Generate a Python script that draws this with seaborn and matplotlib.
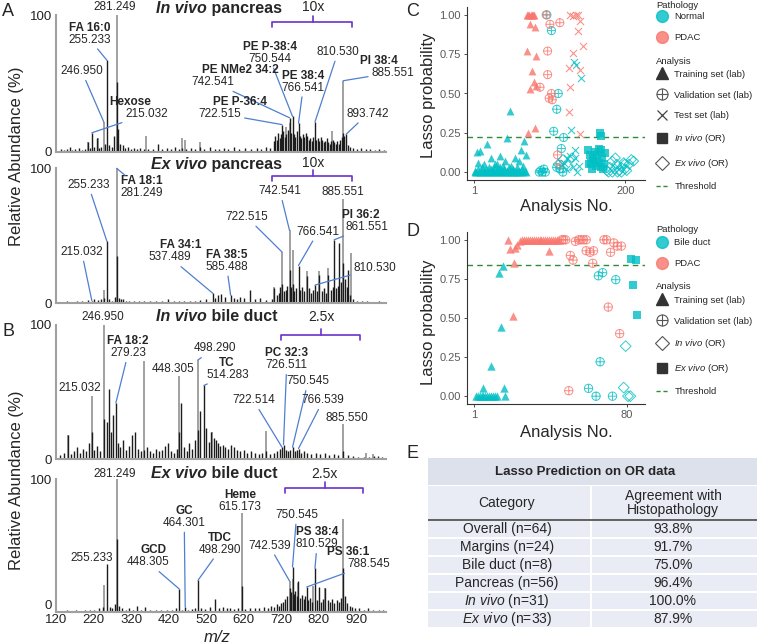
import matplotlib
matplotlib.use("Agg")
import matplotlib.pyplot as plt
import pandas as pd
import seaborn as sns
from matplotlib.lines import Line2D
from matplotlib.markers import MarkerStyle
from matplotlib.path import Path
from matplotlib.patches import Rectangle
from matplotlib.ticker import FormatStrFormatter

sns.set_style("ticks")
plt.rcParams['font.family'] = ['Liberation Sans', 'DejaVu Sans']
plt.rcParams['mathtext.fontset'] = 'custom'
plt.rcParams['mathtext.rm'] = 'Liberation Sans'
plt.rcParams['mathtext.it'] = 'Liberation Sans:italic'
plt.rcParams['mathtext.bf'] = 'Liberation Sans:bold'

# ---------------- spectra: m/z and relative abundance (%) ----------------
s1_dark_mz = [
    133, 141, 150, 156, 163, 171, 180, 188, 197, 205,
    211, 215.032, 222, 228, 235, 240, 251, 255.233, 262, 268,
    275, 281.249, 285, 291, 297, 303, 311, 319, 327, 335,
    343, 353, 365, 377, 391, 403, 415, 427, 437, 447,
    457, 467, 479, 491, 503, 515, 531, 543, 555, 567,
    579, 594, 607, 623, 639, 655, 667, 679, 691, 700,
    704, 708, 712, 716, 719, 722.515, 726, 730, 734, 738,
    742.541, 746, 750.544, 754, 758, 762, 766.541, 770, 774, 778,
    782, 786, 790, 794, 798, 802, 806, 810.530, 814, 818,
    822, 826, 830, 834, 838, 842, 846, 850, 854, 858,
    862, 866, 870, 874, 878, 882, 885.551, 889, 893.742, 898,
    904, 912, 922, 934, 946, 958, 970, 982, 994]
s1_dark_int = [
    2, 1.5, 2, 4, 1.5, 2, 3, 1.5, 2, 7,
    3, 14, 4, 10, 3, 4, 6, 67, 5, 4,
    12, 51, 17, 6, 5, 3, 4, 2.5, 3, 2,
    3, 2, 2.5, 2, 6, 2, 3, 2, 4, 2,
    3, 2, 3, 2, 3.5, 2, 4, 2, 2.5, 3,
    2, 4, 2, 3, 2, 3, 2.5, 4, 3, 8,
    12, 9, 14, 10, 13, 20, 15, 11, 13, 16,
    25, 14, 26, 13, 11, 15, 21, 12, 10, 13,
    11, 14, 12, 9, 10, 8, 11, 22, 9, 10,
    8, 11, 9, 7, 8, 10, 7, 6, 8, 9,
    7, 6, 8, 6, 9, 11, 14, 12, 13, 5,
    4, 3, 2, 3, 2, 2, 1.5, 2, 1.5]
s1_light_mz = [205, 232, 246.950, 281.249, 359, 455, 463, 505, 733, 745, 855, 885.551]
s1_light_int = [7.5, 10, 22, 100, 12, 10, 9, 7, 18, 21, 15, 52]

s2_dark_mz = [
    135, 148, 160, 175, 190, 205, 215.032, 222, 232, 240,
    246.950, 255.233, 262, 270, 276, 281.249, 287, 293, 299, 305,
    315, 327, 341, 355, 371, 387, 403, 419, 433, 447,
    461, 477, 491, 505, 521, 537.489, 543, 551, 561, 571,
    585.488, 595, 603, 611, 621, 637, 651, 665, 681, 695,
    702, 708, 714, 718, 722.515, 727, 732, 737, 742.541, 747,
    750.544, 755, 760, 766.541, 771, 776, 781, 788, 794, 800,
    806, 810.530, 815, 822, 828, 834, 840, 846, 852, 858,
    861.551, 866, 871, 875, 880, 885.551, 890, 895, 899, 905,
    912, 922, 935, 950, 965, 980, 995]
s2_dark_int = [
    1, 1.5, 1, 1.5, 2, 2.5, 2, 3, 2.5, 3,
    4, 46, 3, 2, 5, 35, 4, 3, 3.5, 2,
    2, 1.5, 2, 1.5, 2, 1.5, 1.5, 3, 1.5, 2,
    1.5, 2, 2, 2.5, 3, 7.5, 4, 6, 7, 5,
    6, 4, 3, 5, 4, 10, 3, 4, 2.5, 3,
    11, 6, 8, 12, 14, 9, 10, 13, 25, 12,
    14, 9, 11, 28, 10, 12, 9, 20, 11, 8,
    10, 13.5, 9, 21, 9, 11, 8, 21, 10, 12,
    47, 11, 13, 45, 16, 30, 18, 12, 25, 6,
    3, 2, 1.5, 1.5, 1, 1.5, 1]
s2_light_mz = [246.950, 281.249, 702, 722.515, 742.541, 750.544, 788, 822, 846, 885.551, 907]
s2_light_int = [10, 100, 12, 38, 54, 39.5, 24, 24, 26, 77, 37]

s3_dark_mz = [
    130, 140, 152, 160, 168, 176, 184, 192, 200, 208,
    215.032, 222, 230, 238, 246.950, 255.233, 262, 267, 271, 279.23,
    285, 291, 297, 305, 313, 321, 329, 337, 345, 353,
    361, 369, 377, 385, 393, 401, 409, 417, 425, 433,
    441, 448.305, 454, 461, 468, 475, 482, 490, 498.290, 505,
    514.283, 521, 528, 534, 540, 546, 552, 558, 564, 570,
    578, 586, 594, 602, 610, 620, 630, 640, 650, 660,
    670, 679, 690, 700, 710, 718, 722.514, 726.511, 732, 738,
    744, 750.545, 756, 762, 766.539, 772, 780, 790, 800, 812,
    824, 836, 848, 860, 872, 885.550, 898, 912, 925, 940,
    955, 967, 978, 990]
s3_dark_int = [
    3, 5, 18, 4, 6, 9, 5, 8, 6, 12,
    20, 7, 10, 6, 30, 28, 52, 20, 33, 42,
    12, 9, 14, 7, 10, 18, 20, 8, 6, 7,
    9, 6, 5, 8, 6, 7, 10, 12, 6, 5,
    8, 20, 42, 9, 6, 12, 8, 14, 22, 36,
    55, 23, 13, 20, 16, 14, 12, 10, 11, 9,
    8, 11, 9, 7, 6, 7, 5, 6, 5, 4,
    5, 6, 4, 5, 6, 8, 9, 11, 7, 6,
    7, 9, 6, 7, 8, 5, 6, 5, 4, 5,
    4, 5, 3, 4, 3, 6, 3, 2.5, 2, 2,
    2, 2.5, 2.5, 1.5]
s3_light_mz = [152, 215.032, 246.950, 354, 448.305, 498.290, 536, 679, 885.550, 946, 965]
s3_light_int = [18, 47, 100, 73, 62, 74, 20, 21, 26, 5, 4]

s4_dark_mz = [
    135, 148, 160, 172, 185, 198, 210, 222, 235, 245,
    255.233, 263, 270, 276, 281.249, 288, 295, 305, 315, 325,
    335, 345, 357, 370, 385, 400, 415, 430, 440, 448.305,
    456, 464.301, 472, 482, 490, 498.290, 506, 516, 530, 545,
    555, 565, 575, 585, 595, 605, 615.173, 625, 637, 650,
    662, 674, 684, 694, 702, 708, 714, 720, 726, 731,
    736, 742.539, 746, 750.545, 754, 758, 762, 766, 770, 775,
    780, 784, 788.545, 793, 798, 803, 810.529, 815, 820, 826,
    832, 838, 844, 850, 856, 862, 868, 874, 880, 885.551,
    891, 897, 903, 910, 918, 928, 940, 952, 965, 980, 992]
s4_dark_int = [
    1, 2, 1, 1.5, 1, 1.5, 2, 1.5, 3, 4,
    36, 4, 3, 6, 55, 5, 3, 2, 3, 2,
    5, 2, 4, 2, 1.5, 2, 1.5, 2, 3, 17.5,
    2, 4, 2, 2.5, 3, 24, 3, 2.5, 4, 9.7,
    3, 4, 3, 3.5, 2.5, 3, 20, 2.5, 3, 3,
    3, 4, 3, 5, 4, 6, 5, 7, 8, 10,
    12.6, 18, 15, 34, 14, 16, 12, 23.5, 11, 13,
    10, 12, 19, 9, 11, 8, 33, 9, 18.7, 8,
    10, 18, 9, 8, 10, 7, 9, 8, 11, 33,
    12.6, 7, 5, 4, 3, 3, 2, 3, 2, 2, 1.5]
s4_light_mz = [246.950, 281.249, 615.173, 742.539, 750.545, 766, 806, 838, 885.551]
s4_light_int = [20.6, 100, 74.5, 23.5, 25, 22, 20, 18, 70]

# peak labels: number, name, peak m/z, label x (m/z), label y (%), leader from
s1_labels = [
    ("281.249", None, 281.249, 277, 106, None),
    ("255.233", "FA 16:0", 255.233, 210, 82, "num"),
    ("246.950", None, 246.950, 188, 59, "num"),
    ("215.032", "Hexose", 215.032, 361, 27.5, "num"),
    ("750.544", "PE P-38:4", 750.544, 690, 68, "num"),
    ("742.541", "PE NMe2 34:2", 742.541, 539, 51, "num"),
    ("766.541", "PE 38:4", 766.541, 779, 47, "num"),
    ("722.515", "PE P-36:4", 722.515, 557, 28, "num"),
    ("810.530", None, 810.530, 872, 73, "num"),
    ("885.551", "PI 38:4", 885.551, 1018, 58, "num"),
    ("893.742", None, 893.742, 952, 28, "num"),
]
s2_labels = [
    ("281.249", "FA 18:1", 281.249, 348, 81.5, "name"),
    ("255.233", None, 255.233, 205.6, 87.6, "num"),
    ("215.032", None, 215.032, 188, 38, "num"),
    ("246.950", None, 246.950, 245, -10, None),
    ("537.489", "FA 34:1", 537.489, 423.5, 34, "num"),
    ("585.488", "FA 38:5", 585.488, 575, 27, "num"),
    ("722.515", None, 722.515, 628, 64, "num"),
    ("742.541", None, 742.541, 717, 83, "num"),
    ("885.551", None, 885.551, 886, 82.7, None),
    ("861.551", "PI 36:2", 861.551, 948, 56.7, "num"),
    ("766.541", None, 766.541, 819, 53, "num"),
    ("810.530", None, 810.530, 970, 26, "num"),
]
s3_labels = [
    ("279.23", "FA 18:2", 279.23, 312, 79, "num"),
    ("215.032", None, 215.032, 183.5, 53, None),
    ("448.305", None, 448.305, 431, 67, None),
    ("498.290", None, 498.290, 543.6, 82.6, "num"),
    ("514.283", "TC", 514.283, 579, 63, "num"),
    ("726.511", "PC 32:3", 726.511, 735, 70, "num"),
    ("750.545", None, 750.545, 792, 58, "num"),
    ("722.514", None, 722.514, 646, 44, "num"),
    ("766.539", None, 766.539, 832.5, 44, "num"),
    ("885.550", None, 885.550, 895, 30.5, None),
]
s4_labels = [
    ("281.249", None, 281.249, 277, 104, None),
    ("255.233", None, 255.233, 214.7, 41, None),
    ("448.305", "GCD", 448.305, 365.7, 37.5, "num"),
    ("464.301", "GC", 464.301, 461.7, 67, "num"),
    ("498.290", "TDC", 498.290, 557, 47, "num"),
    ("615.173", "Heme", 615.173, 610, 79, None),
    ("750.545", None, 750.545, 761.5, 73, "num"),
    ("742.539", None, 742.539, 688.5, 50, "num"),
    ("810.529", "PS 38:4", 810.529, 816, 51, "num"),
    ("788.545", "PS 36:1", 788.545, 955, 36, "num"),
]

# ---------------- panel C: lasso probability ----------------
c_train_norm_x = [2, 3, 4, 5, 6, 7, 8, 9, 10, 11, 12, 13, 14, 15, 16, 17, 18, 19, 20, 21,
                  22, 23, 24, 25, 26, 27, 28, 29, 30, 31, 32, 33, 34, 35, 36, 37, 38, 39, 40, 41,
                  42, 43, 44, 45, 46, 47, 48, 49, 50, 51, 52, 53, 54, 55, 56, 57, 58, 59, 60, 61,
                  62, 63, 64, 65, 66, 67, 68, 69, 70]
c_train_norm_y = [0, 0.01, 0, 0.13, 0.02, 0.055, 0, 0.135, 0.01, 0, 0.03, 0, 0.01, 0.05, 0, 0.02, 0.18, 0, 0.01, 0.03,
                  0, 0.09, 0.02, 0, 0.01, 0.03, 0, 0.05, 0.01, 0, 0.05, 0.02, 0, 0.10, 0.03, 0, 0.01, 0.04, 0, 0.02,
                  0.07, 0, 0.215, 0.01, 0, 0.03, 0.39, 0, 0.04, 0.01, 0, 0.02, 0, 0.09, 0.01, 0, 0.03, 0, 0.07, 0.01,
                  0, 0.14, 0.02, 0, 0.04, 0.20, 0.01, 0, 0.11]
c_train_pdac_x = [71, 72.5, 74, 75.5, 77, 78.5, 80, 74.5, 81.5, 71, 82.5, 78, 80, 74.5, 83, 72, 82]
c_train_pdac_y = [1.0, 1.0, 1.0, 1.0, 1.0, 1.0, 1.0, 0.94, 0.92, 0.77, 0.74, 0.64, 0.57, 0.53, 0.55, 0.25, 0.28]
c_valid_norm_x = [97, 103, 112, 110, 106, 119, 116, 87, 89, 91, 93, 95, 110, 114, 118]
c_valid_norm_y = [1.0, 0.90, 0.50, 0.40, 0.26, 0.22, 0.15, 0.0, 0.01, 0.0, 0.02, 0.0, 0.03, 0.02, 0.0]
c_valid_pdac_x = [96, 101, 114, 98, 98, 88, 103, 100, 104, 111, 114]
c_valid_pdac_y = [1.0, 0.94, 0.95, 0.77, 0.62, 0.54, 0.50, 0.47, 0.46, 0.11, 0.05]
c_test_norm_x = [133, 135, 142, 129, 134, 128, 134, 124, 139, 131, 120, 122, 137]
c_test_norm_y = [0.70, 0.68, 0.60, 0.27, 0.14, 0.10, 0.09, 0.09, 0.04, 0.03, 0.06, 0.02, 0.0]
c_test_pdac_x = [127, 131, 135, 138, 141, 138, 144, 131, 126, 141, 127, 126, 140]
c_test_pdac_y = [1.0, 0.99, 1.0, 1.0, 0.96, 0.90, 0.80, 0.76, 0.66, 0.65, 0.54, 0.38, 0.24]
c_invivo_x = [167, 168, 151, 154, 157, 152, 156, 160, 163, 168, 170, 166, 172, 159, 162, 168, 174, 155, 165, 171]
c_invivo_y = [0.25, 0.23, 0.14, 0.11, 0.09, 0.05, 0.02, 0.13, 0.11, 0.14, 0.09, 0.06, 0.05, 0.07, 0.04, 0.03, 0.12, 0.06, 0.15, 0.02]
c_exvivo_x = [176, 180, 183, 186, 189, 192, 195, 199, 202, 205, 208, 211, 183, 187, 195, 200, 178, 190, 198, 112, 118, 125, 130]
c_exvivo_y = [0.01, 0.03, 0.0, 0.02, 0.05, 0.01, 0.03, 0.05, 0.01, 0.05, 0.08, 0.07, 0.07, 0.09, 0.0, 0.02, 0.0, 0.0, 0.06, 0.05, 0.08, 0.04, 0.09]
c_threshold = 0.225

# ---------------- panel D ----------------
d_train_bile_x = [2, 3, 4, 5, 6, 7, 8, 9, 10, 11, 12, 13, 5.9, 9.8, 14.9, 13.9, 16.1, 16.4, 17.0]
d_train_bile_y = [0, 0, 0, 0, 0, 0, 0, 0, 0, 0, 0, 0, 0.05, 0.19, 0.445, 0.79, 0.83, 0.05, 0.0]
d_train_pdac_x = [18.7, 19.9, 21.2, 21.9, 22.5, 23.4, 24.7, 26, 27, 28, 29, 30, 31, 32, 33, 34, 35,
                  36, 37, 38, 39, 40, 41, 42, 43, 44, 45, 39.9]
d_train_pdac_y = [1.0, 0.94, 0.51, 0.85, 0.95, 0.97, 0.99, 1.0, 1.0, 1.0, 1.0, 1.0, 1.0, 1.0, 1.0, 1.0, 1.0,
                  1.0, 1.0, 1.0, 1.0, 1.0, 1.0, 1.0, 1.0, 1.0, 1.0, 0.93]
d_valid_pdac_x = [46.5, 47.5, 48.5, 50.9, 52.3, 53.5, 55.2, 56.4, 57.8, 59.1, 59.1, 61.1, 62.9, 62.5,
                  68.3, 69.6, 71.7, 73.4, 75.1, 77.3, 70.5, 76.4, 50.1]
d_valid_pdac_y = [1.0, 1.0, 1.0, 0.90, 0.87, 0.99, 1.0, 1.0, 1.0, 1.0, 0.93, 0.92, 0.93, 0.85,
                  1.0, 1.0, 0.92, 0.98, 0.96, 0.96, 0.57, 0.40, 0.035]
d_valid_bile_x = [65.4, 67.6, 74.4, 66.3, 60.3, 64.2, 72.7]
d_valid_bile_y = [0.77, 0.79, 0.745, 0.22, 0.05, 0.0, 0.0]
d_invivo_x = [79.5, 78.5, 80.7, 81.9]
d_invivo_y = [0.32, 0.055, 0.0, 0.0]
d_exvivo_x = [82.4, 84.6, 83.2, 85.4]
d_exvivo_y = [0.88, 0.87, 0.71, 0.52]
d_threshold = 0.84

# ---------------- panel E ----------------
e_categories = ["Overall (n=64)", "Margins (n=24)", "Bile duct (n=8)", "Pancreas (n=56)",
                r"$\it{In\ vivo}$ (n=31)", r"$\it{Ex\ vivo}$ (n=33)"]
e_agreement = [93.8, 91.7, 75.0, 96.4, 100.0, 87.9]

# ---------------- styling ----------------
teal = "#00BFC4"
salmon = "#F8766D"
green = "#2E8B3A"
leader = "#4F7FD0"
purple = "#6A32C8"
dark_peak = "#1c1c1c"
light_peak = "#9a9a9a"

W, H = 757.0, 644.0
fig = plt.figure(figsize=(7.57, 6.44), dpi=100)


def px_axes(left, top, right, bottom):
    return fig.add_axes([left / W, 1 - bottom / H, (right - left) / W, (bottom - top) / H])


def ftext(x, y, s, **kw):
    return fig.text(x / W, 1 - y / H, s, **kw)


def peak_top(mz, series):
    best = 0
    for xs, ys in series:
        for x, y in zip(xs, ys):
            if abs(x - mz) < 0.01:
                best = max(best, y)
    return best


spectra = [
    ((15, 152), s1_dark_mz, s1_dark_int, s1_light_mz, s1_light_int, s1_labels,
     ("In vivo", " pancreas"), 105, (697, 908, 95, 806, "10x", 106)),
    ((168.3, 303.3), s2_dark_mz, s2_dark_int, s2_light_mz, s2_light_int, s2_labels,
     ("Ex vivo", " pancreas"), 103, (697, 908, 94, 806, "10x", 103.7)),
    ((325, 459.3), s3_dark_mz, s3_dark_int, s3_light_mz, s3_light_int, s3_labels,
     ("In vivo", " bile duct"), 106, (721, 930, 92.5, 827, "2.5x", 106)),
    ((479, 612.3), s4_dark_mz, s4_dark_int, s4_light_mz, s4_light_int, s4_labels,
     ("Ex vivo", " bile duct"), 104, (730, 939, 93, 836, "2.5x", 104)),
]

for i, (box, dmz, dint, lmz, lint, labels, title, title_y, br) in enumerate(spectra):
    ax = px_axes(56.2, box[0], 386, box[1])
    ax.vlines(lmz, 0, lint, color=light_peak, lw=1.3)
    ax.vlines(dmz, 0, dint, color=dark_peak, lw=1.0)
    ax.set_xlim(120, 1000)
    ax.set_ylim(0, 100)
    ax.set_facecolor("none")
    for s in ("top", "right"):
        ax.spines[s].set_visible(False)
    for s in ("left", "bottom"):
        ax.spines[s].set_color("#a0a0a0")
        ax.spines[s].set_linewidth(1.5)
    ax.set_yticks([0, 100])
    ax.tick_params(axis="y", length=0, pad=3, labelsize=9.5, labelcolor="#222222")
    if i == 3:
        ax.set_xticks([120, 220, 320, 420, 520, 620, 720, 820, 920])
        ax.tick_params(axis="x", length=0, pad=1.5, labelsize=9.5, labelcolor="#222222")
        ax.yaxis.get_major_ticks()[0].label1.set_va("bottom")
    else:
        ax.set_xticks([])

    series = [(dmz, dint), (lmz, lint)]
    for num, name, peak, tx, ty, lead in labels:
        arrow = dict(arrowstyle="-", color=leader, lw=0.9, shrinkA=0, shrinkB=0)
        if lead == "num":
            t = ax.annotate(num, xy=(peak, peak_top(peak, series)), xytext=(tx, ty),
                            ha="center", va="center", fontsize=8.5, arrowprops=arrow,
                            annotation_clip=False)
        else:
            t = ax.text(tx, ty, num, ha="center", va="center", fontsize=8.5)
        if name:
            n = ax.annotate(name, xy=(0.5, 1.0), xycoords=t, ha="center", va="bottom",
                            fontsize=8.5, fontweight="bold")
            if lead == "name":
                ax.annotate("", xy=(peak, peak_top(peak, series)), xytext=(0.1, 1.0),
                            textcoords=n, arrowprops=arrow, annotation_clip=False)

    ax.text(522, title_y, title[0], ha="right", va="center", fontsize=11.5,
            fontweight="bold", fontstyle="italic")
    ax.text(522, title_y, title[1], ha="left", va="center", fontsize=11.5, fontweight="bold")

    x0, x1, yb, xc, btxt, bty = br
    ax.plot([x0, x0, x1, x1], [yb - 3.5, yb, yb, yb - 3.5], color=purple, lw=1.2, clip_on=False)
    ax.plot([xc, xc], [yb, yb + 4.5], color=purple, lw=1.2, clip_on=False)
    ax.text(xc, bty, btxt, ha="center", va="center", fontsize=10)

ftext(17, 156, "Relative Abundance (%)", rotation=90, ha="center", va="center", fontsize=12)
ftext(17, 480, "Relative Abundance (%)", rotation=90, ha="center", va="center", fontsize=12)
ftext(217, 637, "m/z", ha="center", va="center", fontsize=12, fontstyle="italic")

# ---------------- panels C and D ----------------
oplus_path = Path.make_compound_path(
    Path.unit_circle(),
    Path([[-1, 0], [1, 0], [0, -1], [0, 1]], [Path.MOVETO, Path.LINETO, Path.MOVETO, Path.LINETO]))
m_train = MarkerStyle("^")
m_valid = MarkerStyle(oplus_path, fillstyle="none")
m_test = MarkerStyle("x")
m_square = MarkerStyle("s")
m_diamond = MarkerStyle("D", fillstyle="none")


def scatter_panel(ax, groups, thr, xlim, xticks):
    for xs, ys, col, mk, size, lw in groups:
        df = pd.DataFrame({"x": xs, "y": ys})
        kw = dict(edgecolor="face") if mk.is_filled() else {}
        sns.scatterplot(data=df, x="x", y="y", color=col, marker=mk, s=size,
                        linewidth=lw, alpha=0.8, legend=False, ax=ax, **kw)
    ax.axhline(thr, color=green, ls=(0, (4, 3)), lw=1.0, zorder=0)
    ax.set_xlim(*xlim)
    ax.set_ylim(-0.05, 1.05)
    ax.set_xticks(xticks)
    ax.set_yticks([0, 0.25, 0.5, 0.75, 1.0])
    ax.yaxis.set_major_formatter(FormatStrFormatter("%.2f"))
    ax.set_xlabel("")
    ax.set_ylabel("")
    sns.despine(ax=ax)
    for s in ("left", "bottom"):
        ax.spines[s].set_color("#333333")
        ax.spines[s].set_linewidth(0.8)
    ax.tick_params(length=2.5, width=0.6, color="#333333", labelsize=8, labelcolor="#5a5a5a", pad=2)


axC = px_axes(467, 7, 645, 180)
scatter_panel(axC, [
    (c_train_norm_x, c_train_norm_y, teal, m_train, 32, 0),
    (c_train_pdac_x, c_train_pdac_y, salmon, m_train, 32, 0),
    (c_valid_norm_x, c_valid_norm_y, teal, m_valid, 34, 0.7),
    (c_valid_pdac_x, c_valid_pdac_y, salmon, m_valid, 34, 0.7),
    (c_test_norm_x, c_test_norm_y, teal, m_test, 26, 0.8),
    (c_test_pdac_x, c_test_pdac_y, salmon, m_test, 26, 0.8),
    (c_exvivo_x, c_exvivo_y, teal, m_diamond, 26, 0.7),
    (c_invivo_x, c_invivo_y, teal, m_square, 26, 0),
], c_threshold, (-8, 226), [1, 200])

axD = px_axes(467, 232, 645, 404)
scatter_panel(axD, [
    (d_train_bile_x, d_train_bile_y, teal, m_train, 36, 0),
    (d_train_pdac_x, d_train_pdac_y, salmon, m_train, 36, 0),
    (d_valid_bile_x, d_valid_bile_y, teal, m_valid, 36, 0.7),
    (d_valid_pdac_x, d_valid_pdac_y, salmon, m_valid, 36, 0.7),
    (d_invivo_x, d_invivo_y, teal, m_diamond, 30, 0.7),
    (d_exvivo_x, d_exvivo_y, teal, m_square, 28, 0),
], d_threshold, (-2.5, 89.5), [1, 80])

for yc in (95, 322):
    ftext(428, yc, "Lasso probability", rotation=90, ha="center", va="center", fontsize=12)
ftext(566, 207, "Analysis No.", ha="center", va="center", fontsize=12)
ftext(566, 433, "Analysis No.", ha="center", va="center", fontsize=12)

# legends
def dot(c):
    return Line2D([], [], ls="none", marker="o", ms=8.5, mfc=c, mec=c, alpha=0.8)


h_train = Line2D([], [], ls="none", marker="^", ms=8, mfc="#333333", mec="#333333")
h_valid = Line2D([], [], ls="none", marker=oplus_path, ms=8, mfc="none", mec="#555555", mew=0.8)
h_test = Line2D([], [], ls="none", marker="x", ms=7, mec="#444444", mew=0.9)
h_square = Line2D([], [], ls="none", marker="s", ms=7, mfc="#333333", mec="#333333")
h_diamond = Line2D([], [], ls="none", marker="D", ms=7, mfc="none", mec="#555555", mew=0.8)
h_thr = Line2D([], [], color=green, ls=(0, (3, 2)), lw=1.0)

it_in = r"$\it{In\ vivo}$ (OR)"
it_ex = r"$\it{Ex\ vivo}$ (OR)"


def legend_block(handles, labels, top):
    fig.legend(handles, labels, loc="upper left", bbox_to_anchor=(656 / W, 1 - top / H),
               frameon=False, fontsize=6.8, borderpad=0, borderaxespad=0,
               handlelength=1.25, handletextpad=0.7, labelspacing=1.25)


ftext(656, 5, "Pathology", ha="left", va="center", fontsize=6.8)
legend_block([dot(teal), dot(salmon)], ["Normal", "PDAC"], 12.1)
ftext(656, 61, "Analysis", ha="left", va="center", fontsize=6.8)
legend_block([h_train, h_valid, h_test, h_square, h_diamond, h_thr],
             ["Training set (lab)", "Validation set (lab)", "Test set (lab)", it_in, it_ex, "Threshold"], 69.8)

ftext(656, 229.3, "Pathology", ha="left", va="center", fontsize=6.8)
legend_block([dot(teal), dot(salmon)], ["Bile duct", "PDAC"], 238.1)
ftext(656, 286.7, "Analysis", ha="left", va="center", fontsize=6.8)
legend_block([h_train, h_valid, h_diamond, h_square, h_thr],
             ["Training set (lab)", "Validation set (lab)", it_in, it_ex, "Threshold"], 295.8)

# ---------------- table E ----------------
axE = px_axes(428, 458, 757, 628)
axE.set_xlim(0, 329)
axE.set_ylim(170, 0)
axE.axis("off")
title_bg = "#dde1ec"
row_bg = "#e9ecf4"
split = 163
axE.add_patch(Rectangle((0, 0), 329, 27, fc=title_bg, ec="none"))
axE.add_patch(Rectangle((0, 27.8), split - 0.8, 34.2, fc=row_bg, ec="none"))
axE.add_patch(Rectangle((split + 0.8, 27.8), 329 - split - 0.8, 34.2, fc=row_bg, ec="none"))
axE.text(157, 14, "Lasso Prediction on OR data", ha="center", va="center", fontsize=9.5, fontweight="bold")
axE.text(79, 45, "Category", ha="center", va="center", fontsize=10)
axE.text(245, 45, "Agreement with\nHistopathology", ha="center", va="center", fontsize=10, linespacing=1.0)
for k, (cat, val) in enumerate(zip(e_categories, e_agreement)):
    y0 = 62 + 18 * k
    axE.add_patch(Rectangle((0, y0 + 0.8), split - 0.8, 16.4, fc=row_bg, ec="none"))
    axE.add_patch(Rectangle((split + 0.8, y0 + 0.8), 329 - split - 0.8, 16.4, fc=row_bg, ec="none"))
    axE.text(79, y0 + 9, cat, ha="center", va="center", fontsize=10)
    axE.text(245, y0 + 9, f"{val:.1f}%", ha="center", va="center", fontsize=10)
axE.plot([0, 329], [62, 62], color="#555555", lw=1.3)

# panel letters
for letter, x, y in [("A", 8, 11), ("B", 8, 331), ("C", 413, 11), ("D", 413, 232), ("E", 413, 453)]:
    ftext(x, y, letter, ha="center", va="center", fontsize=13)

fig.savefig("out.png", dpi=100)
